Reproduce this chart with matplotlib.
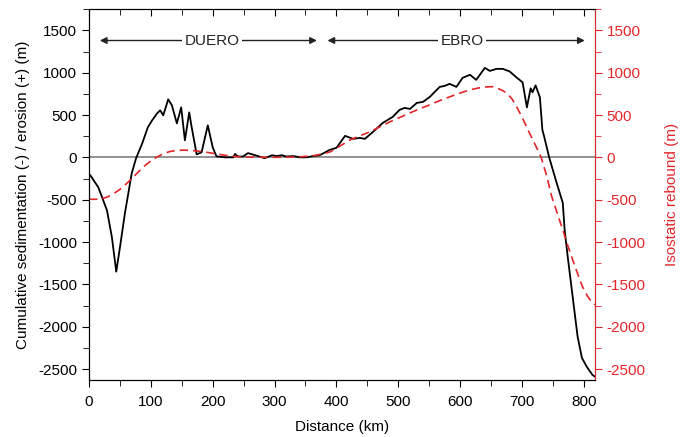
import numpy as np
import matplotlib.pyplot as plt
from matplotlib.ticker import MultipleLocator

plt.rcParams['font.family'] = ['Liberation Sans', 'DejaVu Sans']
plt.rcParams['axes.unicode_minus'] = False

# cumulative sedimentation / erosion profile (black)
dist = [0, 2, 15, 29, 37, 44, 50, 58, 69, 76, 86, 95, 102, 110, 115, 120, 128, 134, 142,
        149, 155, 162, 166, 174, 182, 192, 200, 206, 220, 233, 236, 241, 249, 257, 271,
        284, 296, 303, 312, 319, 330, 341, 352, 362, 373, 389, 400, 414, 427, 438, 446,
        459, 475, 491, 502, 510, 519, 530, 540, 551, 567, 575, 583, 594, 604, 616, 626,
        640, 648, 659, 669, 680, 691, 701, 708, 714, 717, 722, 729, 733, 736, 744, 756,
        766, 769, 774, 782, 790, 797, 805, 814, 818]
erosion = [-200, -212, -354, -626, -945, -1350, -1062, -661, -189, -12, 165, 354, 437,
           519, 555, 496, 685, 614, 401, 590, 201, 531, 354, 35, 59, 378, 118, 12, 0, 0,
           40, 10, 10, 50, 20, -10, 25, 15, 25, 10, 15, 0, 0, 15, 25, 88, 112, 254, 218,
           230, 218, 300, 407, 478, 560, 584, 572, 643, 655, 714, 832, 844, 868, 832, 939,
           975, 915, 1057, 1021, 1045, 1045, 1015, 945, 886, 590, 815, 768, 850, 709, 325,
           242, 0, -300, -537, -856, -1175, -1648, -2120, -2370, -2476, -2570, -2590]

# isostatic rebound (red dashed)
dist_r = [0, 10, 20, 30, 40, 50, 60, 70, 80, 90, 100, 110, 120, 130, 140, 150, 160, 170,
          180, 190, 200, 210, 220, 230, 245, 265, 290, 320, 345, 365, 380, 390, 405, 422,
          438, 454, 470, 486, 502, 519, 535, 551, 567, 583, 600, 616, 630, 643, 652, 659,
          667, 675, 684, 692, 701, 712, 722, 731, 740, 748, 757, 766, 774, 782, 790, 798,
          806, 814, 818]
rebound = [-495, -495, -490, -468, -428, -378, -315, -245, -170, -100, -42, 5, 42, 68, 80,
           85, 84, 78, 70, 60, 48, 36, 24, 14, 6, 2, 0, 2, 8, 22, 45, 65, 130, 206, 255,
           300, 360, 418, 470, 525, 575, 620, 670, 714, 760, 797, 820, 832, 835, 820, 795,
           761, 690, 590, 460, 290, 140, 0, -220, -460, -660, -856, -1040, -1210, -1375,
           -1530, -1640, -1720, -1740]

red = '#e3262a'

fig = plt.figure(figsize=(6.87, 4.37), dpi=100)
ax = fig.add_axes([0.1296, 0.1304, 0.7364, 0.8486])
ax2 = ax.twinx()

ax.axhline(0, color='#808080', lw=1.2, zorder=1)
ax.plot(dist, erosion, color='black', lw=1.3, zorder=3)
ax2.plot(dist_r, rebound, color=red, lw=1.2, ls=(0, (5, 3)), zorder=2)

ax.set_xlim(0, 818)
ax.set_ylim(-2630, 1750)
ax2.set_ylim(-2630, 1750)

ax.xaxis.set_major_locator(MultipleLocator(100))
ax.xaxis.set_minor_locator(MultipleLocator(50))
for a in (ax, ax2):
    a.yaxis.set_major_locator(MultipleLocator(500))
    a.yaxis.set_minor_locator(MultipleLocator(250))

ax.tick_params(axis='x', which='both', direction='out', top=True, labelsize=11, pad=6)
ax.tick_params(axis='x', which='major', length=5)
ax.tick_params(axis='x', which='minor', length=4)
ax.tick_params(axis='y', which='both', direction='out', labelsize=11)
ax.tick_params(axis='y', which='major', length=5)
ax.tick_params(axis='y', which='minor', length=4)
for t in ax.xaxis.get_minor_ticks() + ax.xaxis.get_major_ticks():
    t.tick2line.set_marker(3)

ax2.tick_params(axis='y', which='both', direction='out', colors=red, labelsize=11)
ax2.tick_params(axis='y', which='major', length=5)
ax2.tick_params(axis='y', which='minor', length=4)
ax2.spines['right'].set_color(red)

ax.set_xlabel('Distance (km)', fontsize=11, labelpad=8)
ax.set_ylabel('Cumulative sedimentation (-) / erosion (+) (m)', fontsize=11, labelpad=6)
ax2.set_ylabel('Isostatic rebound (m)', fontsize=11, color=red, labelpad=14)

# basin arrows
for x0, x1, xt, name in [(13, 373, 199, 'DUERO'), (381, 806, 603, 'EBRO')]:
    ax.annotate('', xy=(x0, 1380), xytext=(xt, 1380),
                arrowprops=dict(arrowstyle='-|>', color='#222222', lw=1, mutation_scale=10))
    ax.annotate('', xy=(x1, 1380), xytext=(xt, 1380),
                arrowprops=dict(arrowstyle='-|>', color='#222222', lw=1, mutation_scale=10))
    ax.text(xt, 1380, name, ha='center', va='center', fontsize=11, color='#222222',
            bbox=dict(facecolor='white', edgecolor='none', pad=2))

fig.savefig('out.png', dpi=100)
